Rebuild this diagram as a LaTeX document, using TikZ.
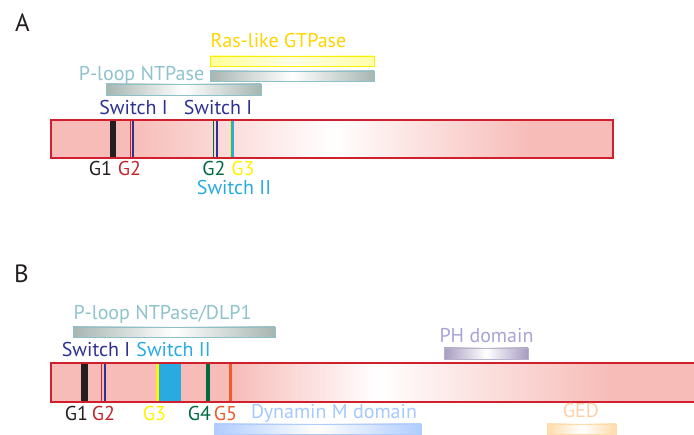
\documentclass[tikz,border=0pt]{standalone}
\usepackage{fontspec}
\setmainfont{PT Sans}
\definecolor{pinkbar}{HTML}{F7BCB8}
\definecolor{barborder}{HTML}{D0202E}
\definecolor{navy}{HTML}{2E3192}
\definecolor{cyanm}{HTML}{29ABE2}
\definecolor{yellowm}{HTML}{FFF200}
\definecolor{goldtxt}{HTML}{FFD400}
\definecolor{greenm}{HTML}{00693E}
\definecolor{redm}{HTML}{C1272D}
\definecolor{orangem}{HTML}{F15A29}
\definecolor{blackm}{HTML}{231F20}
\definecolor{tealtxt}{HTML}{8EC3CC}
\definecolor{graybar}{HTML}{A7B6B2}
\definecolor{tealborder}{HTML}{8CC1CA}
\definecolor{dyntxt}{HTML}{A5C8FF}
\definecolor{dynbar}{HTML}{B0CCFF}
\definecolor{phtxt}{HTML}{A8A3D6}
\definecolor{phbar}{HTML}{A69CC0}
\definecolor{gedtxt}{HTML}{FFD0A8}
\definecolor{gedbar}{HTML}{FFDCAA}
\definecolor{yellowbar}{HTML}{FFFF99}
\definecolor{yellowborder}{HTML}{FFEE00}
\begin{document}
\begin{tikzpicture}[x=1pt,y=-1pt,
  lbl/.style={inner sep=0pt, anchor=base, font=\fontsize{20}{24}\selectfont},
  panel/.style={inner sep=0pt, anchor=base, font=\fontsize{25}{30}\selectfont, text=blackm},
  domainbar/.style={line width=0.9pt},
  fade/.style={left color=#1, right color=#1, middle color=white}]
\useasboundingbox (0,0) rectangle (694,435);
% ---------- Panel A ----------
\node[panel] (labA) at (22.5,32) {A};
% main bar A
\fill[pinkbar] (51,120) rectangle (131.3,158);
\shade[left color=pinkbar,right color=white] (131,120) rectangle (333.3,158);
\shade[left color=white,right color=pinkbar] (333,120) rectangle (530.3,158);
\fill[pinkbar] (530,120) rectangle (613,158);
% markers A
\fill[blackm] (110,120) rectangle (116,158);
\draw[redm, line width=0.8pt] (130.7,120) -- (130.7,158);
\fill[navy] (132,120) rectangle (134.3,158);
\draw[greenm, line width=0.8pt] (213.3,120) -- (213.3,158);
\fill[navy] (215.7,120) rectangle (218.3,158);
\fill[yellowm] (229.8,120) rectangle (231.3,158);
\fill[cyanm] (231.2,120) rectangle (234,158);
\draw[barborder, line width=1.2pt] (51,120) rectangle (613,158);
% domain bars A
\shade[left color=yellowbar, right color=yellowbar!85, middle color=yellowbar!25] (210,56) rectangle (374,66);
\draw[yellowborder, domainbar] (210,56) rectangle (374,66);
\shade[fade=graybar] (210,71) rectangle (374,81);
\draw[tealborder, domainbar] (210,71) rectangle (374,81);
\shade[fade=graybar] (106,84) rectangle (261,95);
\draw[tealborder, domainbar] (106,84) rectangle (261,95);
% labels A
\node[lbl, text=goldtxt] (ras) at (278.5,48) {Ras-like GTPase};
\node[lbl, text=tealtxt] (ploopA) at (141.5,81) {P-loop NTPase};
\node[lbl, text=navy] (swIa) at (133.5,115) {Switch I};
\node[lbl, text=navy] (swIb) at (218,115) {Switch I};
\node[lbl, text=blackm] (g1a) at (100.5,176) {G1};
\node[lbl, text=redm] (g2a) at (129.5,176) {G2};
\node[lbl, text=greenm] (g2b) at (214,176) {G2};
\node[lbl, text=yellowm] (g3a) at (243,176) {G3};
\node[lbl, text=cyanm] (swIIa) at (234,194.5) {Switch II};
% ---------- Panel B ----------
\node[panel] (labB) at (21.5,283) {B};
\fill[pinkbar] (51,363) rectangle (232.3,402);
\shade[left color=pinkbar,right color=white] (232,363) rectangle (377.3,402);
\shade[left color=white,right color=pinkbar] (377,363) rectangle (610.3,402);
\fill[pinkbar] (610,363) rectangle (694,402);
% markers B
\fill[blackm] (81,363) rectangle (87.7,402);
\draw[redm, line width=0.8pt] (101.7,363) -- (101.7,402);
\fill[navy] (103.7,363) rectangle (106.3,402);
\fill[yellowm] (155.7,363) rectangle (158.8,402);
\fill[cyanm] (158.7,363) rectangle (180.7,402);
\fill[greenm] (206,363) rectangle (209.7,402);
\fill[orangem] (229.3,363) rectangle (232,402);
\draw[barborder, line width=1.2pt] (694,363) -- (51,363) -- (51,402) -- (694,402);
% domain bars B
\shade[fade=graybar] (73,327) rectangle (275,337);
\draw[tealborder, domainbar] (73,327) rectangle (275,337);
\shade[fade=phbar] (444,348) rectangle (528,359);
\draw[phbar!80!white, domainbar] (444,348) rectangle (528,359);
\shade[fade=dynbar] (214,424) rectangle (421,434);
\draw[dynbar, domainbar] (214,424) rectangle (421,434);
\shade[fade=gedbar] (547,424) rectangle (616,434);
\draw[gedbar, domainbar] (547,424) rectangle (616,434);
% labels B
\node[lbl, text=tealtxt] (ploopB) at (162.5,320) {P-loop NTPase/DLP1};
\node[lbl, text=navy] (swIB) at (96,357) {Switch I};
\node[lbl, text=cyanm] (swIIB) at (173.5,357) {Switch II};
\node[lbl, text=blackm] (g1b) at (76.5,421) {G1};
\node[lbl, text=redm] (g2c) at (103.5,421) {G2};
\node[lbl, text=yellowm] (g3b) at (154.5,421) {G3};
\node[lbl, text=greenm] (g4b) at (199.5,421) {G4};
\node[lbl, text=orangem] (g5b) at (225.5,421) {G5};
\node[lbl, text=dyntxt] (dyn) at (334,419) {Dynamin M domain};
\node[lbl, text=phtxt] (ph) at (486.5,343) {PH domain};
\node[lbl, text=gedtxt] (ged) at (581,418) {GED};
\end{tikzpicture}
\end{document}
